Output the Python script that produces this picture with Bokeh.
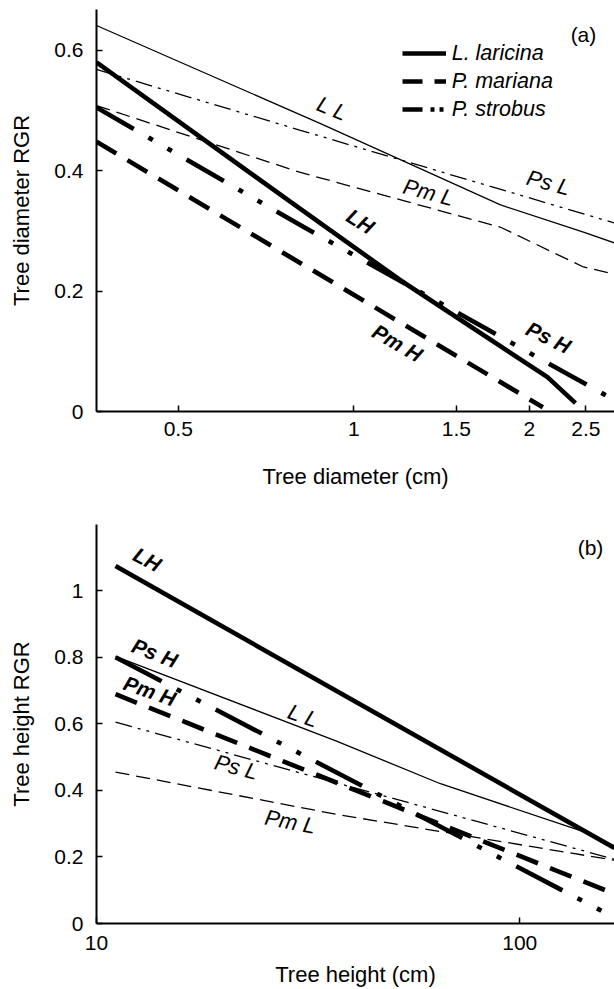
from bokeh.plotting import figure
from bokeh.layouts import column
from bokeh.models import FixedTicker, CustomJSTickFormatter, Legend, LegendItem, Range1d
from bokeh.core.properties import value
from bokeh.embed import file_html
from bokeh.resources import INLINE

FONT = "Liberation Sans"

# ---------------- DATA ----------------
# Panel (a): tree diameter (cm) vs tree diameter RGR
a_LH_x = [0.362, 0.779, 1.202, 2.149, 2.40]
a_LH_y = [0.580, 0.348, 0.218, 0.057, 0.014]
a_LL_x = [0.362, 0.877, 1.785, 2.477, 2.80]
a_LL_y = [0.641, 0.478, 0.343, 0.298, 0.280]
a_PmH_x = [0.362, 2.11]
a_PmH_y = [0.448, 0.007]
a_PmL_x = [0.362, 0.810, 1.785, 2.477, 2.80]
a_PmL_y = [0.508, 0.397, 0.306, 0.240, 0.228]
a_PsH_x = [0.362, 0.832, 2.75]
a_PsH_y = [0.505, 0.303, 0.023]
a_PsL_x = [0.362, 0.810, 2.80]
a_PsL_y = [0.568, 0.467, 0.313]

# Panel (b): tree height (cm) vs tree height RGR
b_LH_x = [11.09, 167.4]
b_LH_y = [1.074, 0.227]
b_LL_x = [11.09, 36.9, 64.96, 141.4, 167.4]
b_LL_y = [0.803, 0.548, 0.420, 0.276, 0.233]
b_PmH_x = [11.09, 167.4]
b_PmH_y = [0.689, 0.089]
b_PmL_x = [11.09, 36.9, 167.4]
b_PmL_y = [0.455, 0.328, 0.190]
b_PsH_x = [11.09, 167.4]
b_PsH_y = [0.800, 0.018]
b_PsL_x = [11.09, 167.4]
b_PsL_y = [0.605, 0.193]

a_xticks = [0.5, 1, 1.5, 2, 2.5]
a_yticks = [0, 0.2, 0.4, 0.6]
b_xticks = [10, 100]
b_yticks = [0, 0.2, 0.4, 0.6, 0.8, 1.0]

species = ["L. laricina", "P. mariana", "P. strobus"]

# ---------------- STYLE ----------------
THICK = 4.6
THIN = 1.3


def make_fig(height, xr, yr, btop, bbot, xticks, yticks, xlabel, ylabel):
    p = figure(width=614, height=height, x_axis_type="log",
               x_range=Range1d(*xr), y_range=Range1d(*yr),
               output_backend="svg", toolbar_location=None, title=None,
               min_border_left=96, min_border_right=0,
               min_border_top=btop, min_border_bottom=bbot)
    p.outline_line_color = None
    p.grid.visible = False
    p.background_fill_color = "white"
    p.border_fill_color = "white"
    p.xaxis.ticker = FixedTicker(ticks=xticks)
    p.yaxis.ticker = FixedTicker(ticks=yticks)
    p.xaxis.formatter = CustomJSTickFormatter(code="return String(tick)")
    p.yaxis.formatter = CustomJSTickFormatter(code="return String(Math.round(tick*10)/10)")
    p.xaxis.axis_label = xlabel
    p.yaxis.axis_label = ylabel
    for ax in (p.xaxis[0], p.yaxis[0]):
        ax.axis_line_width = 2
        ax.axis_line_color = "black"
        ax.major_tick_in = 6
        ax.major_tick_out = 0
        ax.major_tick_line_width = 1.5
        ax.major_tick_line_color = "black"
        ax.minor_tick_line_color = None
        ax.major_label_text_font = FONT
        ax.major_label_text_font_size = "21px"
        ax.major_label_text_color = "black"
        ax.axis_label_text_font = FONT
        ax.axis_label_text_font_size = "22px"
        ax.axis_label_text_font_style = "normal"
        ax.axis_label_text_color = "black"
    p.yaxis.major_label_standoff = 13
    p.yaxis.axis_label_standoff = 17
    return p


def draw_lines(p, d, pat):
    p.line(d["LH"][0], d["LH"][1], line_color="black", line_width=THICK)
    p.line(d["LL"][0], d["LL"][1], line_color="black", line_width=THIN)
    p.line(d["PmH"][0], d["PmH"][1], line_color="black", line_width=THICK, line_dash="23 13")
    p.line(d["PmL"][0], d["PmL"][1], line_color="black", line_width=THIN, line_dash="14 7")
    p.line(d["PsH"][0], d["PsH"][1], line_color="black", line_width=THICK, line_dash=pat)
    p.line(d["PsL"][0], d["PsL"][1], line_color="black", line_width=THIN, line_dash="17 6 3 6 3 6")


def labels(p, xs, ys, texts, angles, style, size):
    p.text(x=xs, y=ys, text=texts, angle=angles, angle_units="deg",
           text_font=value(FONT), text_font_size=size, text_font_style=style,
           text_color="black", text_align="center", text_baseline="middle")


# ---------------- PANEL (a) ----------------
p1 = make_fig(491, (0.362, 2.80), (0, 0.6676), 9, 80, a_xticks, a_yticks,
              "Tree diameter (cm)", "Tree diameter RGR")
p1.xaxis.major_label_standoff = 10
p1.xaxis.axis_label_standoff = 25
draw_lines(p1, {"LH": (a_LH_x, a_LH_y), "LL": (a_LL_x, a_LL_y),
                "PmH": (a_PmH_x, a_PmH_y), "PmL": (a_PmL_x, a_PmL_y),
                "PsH": (a_PsH_x, a_PsH_y), "PsL": (a_PsL_x, a_PsL_y)},
           "43 17 5 17 5 17")
labels(p1, [0.918, 2.158, 1.343], [0.503, 0.380, 0.364], ["L L", "Ps L", "Pm L"],
       [-22, -15, -15], "italic", "22px")
labels(p1, [1.027, 2.158, 1.188], [0.316, 0.123, 0.114], ["LH", "Ps H", "Pm H"],
       [-32, -26, -30], "bold italic", "21px")
labels(p1, [2.477], [0.626], ["(a)"], [0], "normal", "21px")

# legend-only renderers (points lie below the visible y range)
lg1 = p1.line(x=[1, 1], y=[-1, -2], line_color="black", line_width=THICK)
lg2 = p1.line(x=[1, 1], y=[-1, -2], line_color="black", line_width=THICK, line_dash="20 12")
lg3 = p1.line(x=[1, 1], y=[-1, -2], line_color="black", line_width=THICK, line_dash="20 8 4 5 4 30")
legend = Legend(items=[LegendItem(label=species[0], renderers=[lg1]),
                       LegendItem(label=species[1], renderers=[lg2]),
                       LegendItem(label=species[2], renderers=[lg3])],
                location=(305.7, 289.3), padding=0, margin=0, spacing=3,
                glyph_width=44, glyph_height=22, label_height=22, label_standoff=6,
                label_text_font=FONT, label_text_font_size="21.5px",
                label_text_font_style="italic", label_text_color="black",
                border_line_color=None, background_fill_alpha=0)
p1.add_layout(legend)

# ---------------- PANEL (b) ----------------
p2 = make_fig(498, (10, 167.4), (0, 1.199), 33, 63, b_xticks, b_yticks,
              "Tree height (cm)", "Tree height RGR")
p2.xaxis.major_label_standoff = 12
p2.xaxis.axis_label_standoff = 9
draw_lines(p2, {"LH": (b_LH_x, b_LH_y), "LL": (b_LL_x, b_LL_y),
                "PmH": (b_PmH_x, b_PmH_y), "PmL": (b_PmL_x, b_PmL_y),
                "PsH": (b_PsH_x, b_PsH_y), "PsL": (b_PsL_x, b_PsL_y)},
           "52 17 5 17 5 17")
labels(p2, [30.8, 21.4, 28.7], [0.624, 0.470, 0.306], ["L L", "Ps L", "Pm L"],
       [-20, -15, -11], "italic", "22px")
labels(p2, [13.18, 13.73, 13.36], [1.094, 0.813, 0.699], ["LH", "Ps H", "Pm H"],
       [-28, -21, -19], "bold italic", "21px")
labels(p2, [146.9], [1.131], ["(b)"], [0], "normal", "21px")

layout = column(p1, p2, spacing=0)
open("out.html", "w").write(file_html(layout, INLINE))
